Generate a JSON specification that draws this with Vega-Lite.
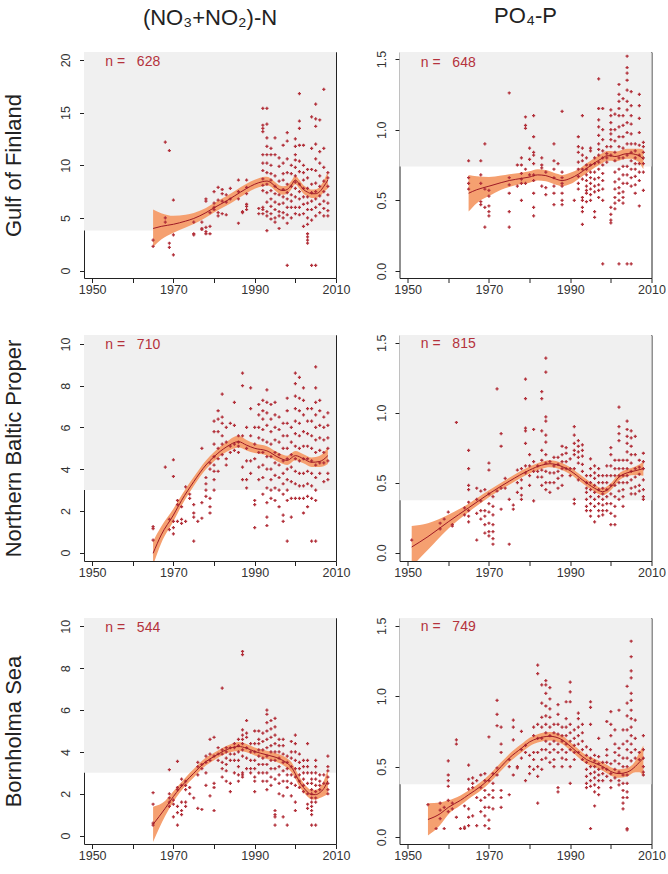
{
"$schema": "https://vega.github.io/schema/vega-lite/v6.json",
"padding": {"left": 2, "top": 4, "right": 0, "bottom": 0},
"background": "white",
"config": {
 "font": "Liberation Sans",
 "view": {"stroke": "#222", "strokeWidth": 1},
 "axis": {"domain": false, "grid": false, "tickColor": "#222", "tickSize": 4.5, "labelFontSize": 12.5, "labelColor": "#333", "labelFont": "Liberation Sans", "labelOverlap": false, "labelFlush": false, "labelBound": false, "titleFontSize": 22, "titleFontWeight": "normal", "titleColor": "#222", "titleFont": "Liberation Sans"},
 "axisX": {"labelPadding": 1},
 "axisY": {"labelAngle": -90, "labelAlign": "center", "labelBaseline": "alphabetic", "labelPadding": 10, "titlePadding": 34},
 "title": {"fontSize": 22, "fontWeight": "normal", "color": "#222", "font": "Liberation Sans", "anchor": "middle", "baseline": "alphabetic", "offset": 22.5}
},
"datasets": {
"fitA": [
{"year":1965,"fit":4.0,"lo":2.25,"hi":5.8},{"year":1967,"fit":4.2,"lo":2.95,"hi":5.45},{"year":1970,"fit":4.4,"lo":3.6,"hi":5.2},{"year":1973,"fit":4.7,"lo":4.1,"hi":5.3},{"year":1975,"fit":4.95,"lo":4.42,"hi":5.48},{"year":1978,"fit":5.5,"lo":5.05,"hi":5.95},{"year":1980,"fit":5.97,"lo":5.52,"hi":6.42},{"year":1983,"fit":6.6,"lo":6.15,"hi":7.05},{"year":1985,"fit":7.08,"lo":6.62,"hi":7.54},{"year":1988,"fit":7.8,"lo":7.35,"hi":8.25},{"year":1990,"fit":8.2,"lo":7.78,"hi":8.62},{"year":1992,"fit":8.45,"lo":8.02,"hi":8.88},{"year":1993,"fit":8.5,"lo":8.08,"hi":8.92},{"year":1994,"fit":8.35,"lo":7.95,"hi":8.75},{"year":1995,"fit":8.0,"lo":7.6,"hi":8.4},{"year":1996,"fit":7.7,"lo":7.3,"hi":8.1},{"year":1997,"fit":7.6,"lo":7.2,"hi":8.0},{"year":1998,"fit":7.7,"lo":7.3,"hi":8.1},{"year":1999,"fit":8.1,"lo":7.7,"hi":8.5},{"year":2000,"fit":8.6,"lo":8.2,"hi":9.0},{"year":2001,"fit":8.2,"lo":7.8,"hi":8.6},{"year":2002,"fit":7.7,"lo":7.3,"hi":8.1},{"year":2003,"fit":7.45,"lo":7.05,"hi":7.85},{"year":2004,"fit":7.3,"lo":6.9,"hi":7.7},{"year":2005,"fit":7.3,"lo":6.9,"hi":7.72},{"year":2006,"fit":7.5,"lo":7.05,"hi":7.95},{"year":2007,"fit":8.0,"lo":7.45,"hi":8.55},{"year":2008,"fit":8.6,"lo":7.8,"hi":9.4}
],
"fitB": [
{"year":1965,"fit":0.55,"lo":0.42,"hi":0.68},{"year":1967,"fit":0.575,"lo":0.48,"hi":0.67},{"year":1970,"fit":0.6,"lo":0.53,"hi":0.665},{"year":1973,"fit":0.625,"lo":0.575,"hi":0.675},{"year":1975,"fit":0.64,"lo":0.595,"hi":0.685},{"year":1978,"fit":0.655,"lo":0.615,"hi":0.695},{"year":1980,"fit":0.665,"lo":0.625,"hi":0.705},{"year":1982,"fit":0.68,"lo":0.64,"hi":0.72},{"year":1984,"fit":0.675,"lo":0.635,"hi":0.715},{"year":1986,"fit":0.655,"lo":0.615,"hi":0.695},{"year":1988,"fit":0.64,"lo":0.6,"hi":0.68},{"year":1990,"fit":0.655,"lo":0.615,"hi":0.695},{"year":1992,"fit":0.685,"lo":0.65,"hi":0.72},{"year":1994,"fit":0.725,"lo":0.69,"hi":0.76},{"year":1996,"fit":0.765,"lo":0.73,"hi":0.8},{"year":1998,"fit":0.8,"lo":0.765,"hi":0.835},{"year":1999,"fit":0.815,"lo":0.78,"hi":0.85},{"year":2000,"fit":0.815,"lo":0.78,"hi":0.85},{"year":2001,"fit":0.81,"lo":0.775,"hi":0.845},{"year":2002,"fit":0.815,"lo":0.78,"hi":0.85},{"year":2003,"fit":0.825,"lo":0.79,"hi":0.86},{"year":2004,"fit":0.83,"lo":0.795,"hi":0.865},{"year":2005,"fit":0.83,"lo":0.795,"hi":0.865},{"year":2006,"fit":0.825,"lo":0.785,"hi":0.865},{"year":2007,"fit":0.815,"lo":0.765,"hi":0.865},{"year":2008,"fit":0.79,"lo":0.72,"hi":0.86}
],
"fitC": [
{"year":1965,"fit":-0.03,"lo":-0.6,"hi":0.55},{"year":1967,"fit":0.85,"lo":0.45,"hi":1.25},{"year":1970,"fit":1.8,"lo":1.5,"hi":2.1},{"year":1972,"fit":2.5,"lo":2.25,"hi":2.75},{"year":1975,"fit":3.4,"lo":3.2,"hi":3.62},{"year":1978,"fit":4.2,"lo":4.0,"hi":4.42},{"year":1980,"fit":4.6,"lo":4.38,"hi":4.82},{"year":1983,"fit":5.06,"lo":4.82,"hi":5.3},{"year":1986,"fit":5.32,"lo":5.04,"hi":5.6},{"year":1988,"fit":5.15,"lo":4.9,"hi":5.4},{"year":1990,"fit":5.0,"lo":4.77,"hi":5.23},{"year":1993,"fit":4.88,"lo":4.66,"hi":5.1},{"year":1996,"fit":4.55,"lo":4.33,"hi":4.77},{"year":1998,"fit":4.42,"lo":4.2,"hi":4.64},{"year":2000,"fit":4.65,"lo":4.43,"hi":4.87},{"year":2002,"fit":4.5,"lo":4.28,"hi":4.72},{"year":2004,"fit":4.33,"lo":4.1,"hi":4.56},{"year":2006,"fit":4.37,"lo":4.1,"hi":4.64},{"year":2008,"fit":4.65,"lo":4.25,"hi":5.05}
],
"fitD": [
{"year":1951,"fit":0.04,"lo":-0.1,"hi":0.19},{"year":1955,"fit":0.114,"lo":0.02,"hi":0.21},{"year":1960,"fit":0.22,"lo":0.17,"hi":0.27},{"year":1965,"fit":0.32,"lo":0.29,"hi":0.35},{"year":1970,"fit":0.42,"lo":0.395,"hi":0.445},{"year":1975,"fit":0.51,"lo":0.485,"hi":0.535},{"year":1980,"fit":0.59,"lo":0.565,"hi":0.615},{"year":1983,"fit":0.625,"lo":0.6,"hi":0.65},{"year":1985,"fit":0.635,"lo":0.61,"hi":0.66},{"year":1988,"fit":0.615,"lo":0.59,"hi":0.64},{"year":1990,"fit":0.585,"lo":0.56,"hi":0.61},{"year":1993,"fit":0.52,"lo":0.495,"hi":0.545},{"year":1996,"fit":0.46,"lo":0.435,"hi":0.485},{"year":1998,"fit":0.435,"lo":0.41,"hi":0.46},{"year":2000,"fit":0.47,"lo":0.445,"hi":0.495},{"year":2002,"fit":0.54,"lo":0.515,"hi":0.565},{"year":2004,"fit":0.57,"lo":0.545,"hi":0.595},{"year":2006,"fit":0.585,"lo":0.555,"hi":0.615},{"year":2008,"fit":0.6,"lo":0.55,"hi":0.65}
],
"fitE": [
{"year":1965,"fit":0.54,"lo":-0.3,"hi":1.38},{"year":1968,"fit":1.31,"lo":0.95,"hi":1.67},{"year":1970,"fit":1.87,"lo":1.62,"hi":2.12},{"year":1973,"fit":2.58,"lo":2.38,"hi":2.78},{"year":1975,"fit":2.98,"lo":2.78,"hi":3.18},{"year":1978,"fit":3.54,"lo":3.35,"hi":3.73},{"year":1980,"fit":3.78,"lo":3.6,"hi":3.96},{"year":1983,"fit":4.1,"lo":3.92,"hi":4.28},{"year":1986,"fit":4.26,"lo":4.04,"hi":4.48},{"year":1988,"fit":4.18,"lo":3.98,"hi":4.38},{"year":1990,"fit":4.02,"lo":3.83,"hi":4.21},{"year":1993,"fit":3.86,"lo":3.66,"hi":4.06},{"year":1996,"fit":3.68,"lo":3.47,"hi":3.89},{"year":1998,"fit":3.46,"lo":3.23,"hi":3.69},{"year":1999,"fit":3.28,"lo":3.04,"hi":3.52},{"year":2000,"fit":2.95,"lo":2.72,"hi":3.18},{"year":2001,"fit":2.58,"lo":2.35,"hi":2.81},{"year":2002,"fit":2.3,"lo":2.08,"hi":2.52},{"year":2003,"fit":2.08,"lo":1.86,"hi":2.3},{"year":2004,"fit":1.96,"lo":1.74,"hi":2.18},{"year":2005,"fit":1.96,"lo":1.73,"hi":2.19},{"year":2006,"fit":2.05,"lo":1.8,"hi":2.3},{"year":2007,"fit":2.25,"lo":1.88,"hi":2.62},{"year":2008,"fit":2.62,"lo":1.98,"hi":3.2}
],
"fitF": [
{"year":1955,"fit":0.124,"lo":0.01,"hi":0.24},{"year":1958,"fit":0.165,"lo":0.085,"hi":0.245},{"year":1960,"fit":0.21,"lo":0.16,"hi":0.26},{"year":1963,"fit":0.26,"lo":0.225,"hi":0.295},{"year":1965,"fit":0.3,"lo":0.27,"hi":0.33},{"year":1968,"fit":0.36,"lo":0.33,"hi":0.39},{"year":1970,"fit":0.41,"lo":0.38,"hi":0.44},{"year":1973,"fit":0.5,"lo":0.47,"hi":0.53},{"year":1975,"fit":0.56,"lo":0.53,"hi":0.59},{"year":1978,"fit":0.63,"lo":0.6,"hi":0.66},{"year":1980,"fit":0.675,"lo":0.645,"hi":0.705},{"year":1982,"fit":0.7,"lo":0.67,"hi":0.73},{"year":1985,"fit":0.715,"lo":0.685,"hi":0.745},{"year":1988,"fit":0.69,"lo":0.66,"hi":0.72},{"year":1990,"fit":0.645,"lo":0.615,"hi":0.675},{"year":1992,"fit":0.595,"lo":0.565,"hi":0.625},{"year":1994,"fit":0.55,"lo":0.52,"hi":0.58},{"year":1996,"fit":0.525,"lo":0.495,"hi":0.555},{"year":1998,"fit":0.5,"lo":0.47,"hi":0.53},{"year":2000,"fit":0.465,"lo":0.435,"hi":0.495},{"year":2002,"fit":0.45,"lo":0.42,"hi":0.48},{"year":2004,"fit":0.46,"lo":0.43,"hi":0.49},{"year":2006,"fit":0.5,"lo":0.46,"hi":0.54},{"year":2007,"fit":0.53,"lo":0.46,"hi":0.6},{"year":2008,"fit":0.56,"lo":0.43,"hi":0.65}
],
"ptsA": [
{"year":1965,"value":2.3},{"year":1965,"value":2.9},{"year":1968,"value":12.2},{"year":1968,"value":5.0},{"year":1968,"value":4.6},{"year":1969,"value":11.4},{"year":1969,"value":2.6},{"year":1969,"value":2.2},{"year":1970,"value":6.7},{"year":1970,"value":3.4},{"year":1970,"value":1.5},{"year":1975,"value":3.5},{"year":1975,"value":3.4},{"year":1975,"value":4.6},{"year":1977,"value":4.0},{"year":1977,"value":4.6},{"year":1977,"value":3.9},{"year":1978,"value":6.8},{"year":1978,"value":6.6},{"year":1978,"value":4.1},{"year":1978,"value":3.7},{"year":1978,"value":3.5},{"year":1979,"value":3.5},{"year":1979,"value":4.2},{"year":1979,"value":5.5},{"year":1980,"value":7.5},{"year":1980,"value":6.0},{"year":1980,"value":5.8},{"year":1980,"value":6.4},{"year":1981,"value":7.9},{"year":1981,"value":5.5},{"year":1981,"value":5.2},{"year":1981,"value":6.7},{"year":1982,"value":7.7},{"year":1982,"value":7.3},{"year":1982,"value":6.6},{"year":1982,"value":5.4},{"year":1983,"value":7.2},{"year":1983,"value":6.5},{"year":1983,"value":5.3},{"year":1984,"value":7.8},{"year":1984,"value":6.8},{"year":1986,"value":8.6},{"year":1986,"value":7.5},{"year":1986,"value":6.8},{"year":1986,"value":4.5},{"year":1987,"value":5.6},{"year":1987,"value":5.5},{"year":1988,"value":8.6},{"year":1988,"value":7.9},{"year":1988,"value":7.3},{"year":1988,"value":6.3},{"year":1988,"value":6.1},{"year":1988,"value":5.8},{"year":1991,"value":5.9},{"year":1991,"value":5.4},
{"year":1992,"value":15.4},{"year":1992,"value":13.8},{"year":1992,"value":13.5},{"year":1992,"value":13.2},{"year":1992,"value":11.0},{"year":1992,"value":10.2},{"year":1992,"value":9.5},{"year":1992,"value":8.7},{"year":1992,"value":8.1},{"year":1992,"value":7.6},{"year":1992,"value":6.0},{"year":1992,"value":5.8},{"year":1992,"value":5.4},
{"year":1993,"value":15.4},{"year":1993,"value":13.9},{"year":1993,"value":12.6},{"year":1993,"value":11.8},{"year":1993,"value":11.0},{"year":1993,"value":10.2},{"year":1993,"value":9.3},{"year":1993,"value":8.2},{"year":1993,"value":7.4},{"year":1993,"value":6.5},{"year":1993,"value":5.6},{"year":1993,"value":5.2},{"year":1993,"value":3.8},
{"year":1994,"value":11.6},{"year":1994,"value":11.0},{"year":1994,"value":10.0},{"year":1994,"value":9.2},{"year":1994,"value":8.6},{"year":1994,"value":7.6},{"year":1994,"value":6.8},{"year":1994,"value":6.1},{"year":1994,"value":5.4},{"year":1994,"value":4.9},
{"year":1995,"value":12.6},{"year":1995,"value":11.0},{"year":1995,"value":9.0},{"year":1995,"value":8.0},{"year":1995,"value":7.3},{"year":1995,"value":6.5},{"year":1995,"value":5.8},{"year":1995,"value":5.0},{"year":1995,"value":4.6},
{"year":1996,"value":10.7},{"year":1996,"value":9.9},{"year":1996,"value":8.5},{"year":1996,"value":7.2},{"year":1996,"value":6.3},{"year":1996,"value":5.6},{"year":1996,"value":5.2},{"year":1996,"value":4.0},
{"year":1997,"value":11.9},{"year":1997,"value":10.2},{"year":1997,"value":9.2},{"year":1997,"value":8.6},{"year":1997,"value":7.7},{"year":1997,"value":7.0},{"year":1997,"value":6.4},{"year":1997,"value":5.5},{"year":1997,"value":5.0},
{"year":1998,"value":13.1},{"year":1998,"value":12.3},{"year":1998,"value":10.6},{"year":1998,"value":9.3},{"year":1998,"value":8.2},{"year":1998,"value":7.4},{"year":1998,"value":6.8},{"year":1998,"value":6.0},{"year":1998,"value":5.3},{"year":1998,"value":4.5},{"year":1998,"value":0.5},
{"year":1999,"value":10.0},{"year":1999,"value":9.2},{"year":1999,"value":8.0},{"year":1999,"value":7.2},{"year":1999,"value":6.6},{"year":1999,"value":6.0},{"year":1999,"value":5.0},
{"year":2000,"value":12.5},{"year":2000,"value":11.8},{"year":2000,"value":11.0},{"year":2000,"value":10.5},{"year":2000,"value":9.8},{"year":2000,"value":9.0},{"year":2000,"value":8.4},{"year":2000,"value":7.8},{"year":2000,"value":7.0},{"year":2000,"value":6.0},{"year":2000,"value":5.4},
{"year":2001,"value":16.8},{"year":2001,"value":14.2},{"year":2001,"value":13.5},{"year":2001,"value":11.9},{"year":2001,"value":10.4},{"year":2001,"value":9.4},{"year":2001,"value":8.2},{"year":2001,"value":7.5},{"year":2001,"value":6.8},{"year":2001,"value":6.0},{"year":2001,"value":5.3},
{"year":2002,"value":11.9},{"year":2002,"value":10.0},{"year":2002,"value":9.3},{"year":2002,"value":8.6},{"year":2002,"value":7.8},{"year":2002,"value":7.0},{"year":2002,"value":6.3},{"year":2002,"value":5.4},{"year":2002,"value":4.2},
{"year":2003,"value":9.6},{"year":2003,"value":8.8},{"year":2003,"value":7.8},{"year":2003,"value":7.0},{"year":2003,"value":6.4},{"year":2003,"value":5.8},{"year":2003,"value":5.0},{"year":2003,"value":4.4},{"year":2003,"value":3.5},{"year":2003,"value":3.2},{"year":2003,"value":2.9},{"year":2003,"value":2.6},
{"year":2004,"value":14.6},{"year":2004,"value":11.6},{"year":2004,"value":9.6},{"year":2004,"value":8.2},{"year":2004,"value":7.4},{"year":2004,"value":6.6},{"year":2004,"value":5.8},{"year":2004,"value":4.8},{"year":2004,"value":0.5},
{"year":2005,"value":15.8},{"year":2005,"value":14.4},{"year":2005,"value":13.7},{"year":2005,"value":12.0},{"year":2005,"value":10.6},{"year":2005,"value":9.5},{"year":2005,"value":8.3},{"year":2005,"value":7.5},{"year":2005,"value":6.8},{"year":2005,"value":6.0},{"year":2005,"value":5.2},{"year":2005,"value":0.5},
{"year":2006,"value":14.3},{"year":2006,"value":11.3},{"year":2006,"value":10.2},{"year":2006,"value":9.0},{"year":2006,"value":8.0},{"year":2006,"value":7.1},{"year":2006,"value":6.3},{"year":2006,"value":5.5},
{"year":2007,"value":17.2},{"year":2007,"value":11.6},{"year":2007,"value":9.8},{"year":2007,"value":8.5},{"year":2007,"value":7.5},{"year":2007,"value":6.6},{"year":2007,"value":5.9},{"year":2007,"value":5.2},
{"year":2008,"value":9.3},{"year":2008,"value":8.8},{"year":2008,"value":8.0},{"year":2008,"value":7.2},{"year":2008,"value":6.4},{"year":2008,"value":5.7},{"year":2008,"value":5.2}
],
"ptsB": [
{"year":1965,"value":0.78},{"year":1965,"value":0.66},{"year":1965,"value":0.62},{"year":1965,"value":0.58},{"year":1968,"value":0.78},{"year":1968,"value":0.68},{"year":1968,"value":0.62},{"year":1968,"value":0.49},{"year":1968,"value":0.47},{"year":1969,"value":0.9},{"year":1969,"value":0.58},{"year":1969,"value":0.45},{"year":1969,"value":0.31},{"year":1970,"value":0.57},{"year":1970,"value":0.53},{"year":1970,"value":0.46},{"year":1970,"value":0.42},{"year":1970,"value":0.39},{"year":1975,"value":1.26},{"year":1975,"value":0.66},{"year":1975,"value":0.61},{"year":1975,"value":0.55},{"year":1975,"value":0.42},{"year":1975,"value":0.31},{"year":1977,"value":0.75},{"year":1977,"value":0.6},{"year":1978,"value":0.8},{"year":1978,"value":0.75},{"year":1978,"value":0.69},{"year":1978,"value":0.65},{"year":1978,"value":0.62},{"year":1978,"value":0.5},{"year":1979,"value":1.09},{"year":1979,"value":1.03},{"year":1979,"value":1.01},{"year":1979,"value":0.72},{"year":1979,"value":0.62},{"year":1980,"value":0.87},{"year":1980,"value":0.79},{"year":1980,"value":0.68},
{"year":1981,"value":1.1},{"year":1981,"value":0.95},{"year":1981,"value":0.84},{"year":1981,"value":0.82},{"year":1981,"value":0.76},{"year":1981,"value":0.68},{"year":1981,"value":0.64},{"year":1981,"value":0.55},{"year":1981,"value":0.45},{"year":1981,"value":0.39},{"year":1983,"value":0.8},{"year":1983,"value":0.75},{"year":1983,"value":0.73},{"year":1983,"value":0.6},{"year":1984,"value":0.7},{"year":1984,"value":0.59},{"year":1984,"value":0.54},
{"year":1986,"value":0.9},{"year":1986,"value":0.78},{"year":1986,"value":0.72},{"year":1986,"value":0.66},{"year":1986,"value":0.6},{"year":1986,"value":0.55},{"year":1986,"value":0.47},{"year":1987,"value":0.76},{"year":1988,"value":1.13},{"year":1988,"value":0.7},{"year":1988,"value":0.66},{"year":1988,"value":0.62},{"year":1988,"value":0.6},{"year":1988,"value":0.55},{"year":1988,"value":0.5},{"year":1988,"value":0.47},{"year":1991,"value":0.5},
{"year":1992,"value":0.95},{"year":1992,"value":0.88},{"year":1992,"value":0.84},{"year":1992,"value":0.77},{"year":1992,"value":0.72},{"year":1992,"value":0.67},{"year":1992,"value":0.62},{"year":1992,"value":0.58},
{"year":1993,"value":1.1},{"year":1993,"value":0.87},{"year":1993,"value":0.82},{"year":1993,"value":0.78},{"year":1993,"value":0.72},{"year":1993,"value":0.65},{"year":1993,"value":0.52},{"year":1993,"value":0.5},{"year":1993,"value":0.45},{"year":1993,"value":0.42},{"year":1993,"value":0.33},
{"year":1994,"value":0.8},{"year":1994,"value":0.75},{"year":1994,"value":0.72},{"year":1994,"value":0.68},{"year":1994,"value":0.64},{"year":1994,"value":0.6},{"year":1994,"value":0.57},{"year":1994,"value":0.55},{"year":1994,"value":0.49},
{"year":1995,"value":0.87},{"year":1995,"value":0.85},{"year":1995,"value":0.75},{"year":1995,"value":0.7},{"year":1995,"value":0.66},{"year":1995,"value":0.62},{"year":1995,"value":0.58},{"year":1995,"value":0.54},{"year":1995,"value":0.5},
{"year":1996,"value":0.8},{"year":1996,"value":0.76},{"year":1996,"value":0.7},{"year":1996,"value":0.65},{"year":1996,"value":0.6},{"year":1996,"value":0.56},{"year":1996,"value":0.42},{"year":1996,"value":0.38},
{"year":1997,"value":1.36},{"year":1997,"value":1.15},{"year":1997,"value":1.07},{"year":1997,"value":1.02},{"year":1997,"value":0.96},{"year":1997,"value":0.9},{"year":1997,"value":0.86},{"year":1997,"value":0.82},{"year":1997,"value":0.77},{"year":1997,"value":0.72},{"year":1997,"value":0.66},{"year":1997,"value":0.61},{"year":1997,"value":0.57},{"year":1997,"value":0.52},
{"year":1998,"value":1.15},{"year":1998,"value":1.0},{"year":1998,"value":0.93},{"year":1998,"value":0.85},{"year":1998,"value":0.8},{"year":1998,"value":0.75},{"year":1998,"value":0.69},{"year":1998,"value":0.64},{"year":1998,"value":0.58},{"year":1998,"value":0.5},{"year":1998,"value":0.05},
{"year":1999,"value":0.88},{"year":1999,"value":0.83},{"year":1999,"value":0.8},{"year":1999,"value":0.77},
{"year":2000,"value":1.14},{"year":2000,"value":1.1},{"year":2000,"value":1.05},{"year":2000,"value":1.0},{"year":2000,"value":0.97},{"year":2000,"value":0.93},{"year":2000,"value":0.88},{"year":2000,"value":0.82},{"year":2000,"value":0.45},{"year":2000,"value":0.4},{"year":2000,"value":0.36},{"year":2000,"value":0.34},
{"year":2001,"value":1.11},{"year":2001,"value":1.0},{"year":2001,"value":0.92},{"year":2001,"value":0.84},{"year":2001,"value":0.78},{"year":2001,"value":0.7},{"year":2001,"value":0.63},{"year":2001,"value":0.58},{"year":2001,"value":0.52},{"year":2001,"value":0.48},{"year":2001,"value":0.44},
{"year":2002,"value":1.32},{"year":2002,"value":1.25},{"year":2002,"value":1.2},{"year":2002,"value":1.15},{"year":2002,"value":1.1},{"year":2002,"value":1.02},{"year":2002,"value":0.95},{"year":2002,"value":0.88},{"year":2002,"value":0.8},{"year":2002,"value":0.72},{"year":2002,"value":0.65},{"year":2002,"value":0.59},{"year":2002,"value":0.55},{"year":2002,"value":0.5},{"year":2002,"value":0.05},
{"year":2003,"value":1.22},{"year":2003,"value":1.1},{"year":2003,"value":1.03},{"year":2003,"value":0.95},{"year":2003,"value":0.87},{"year":2003,"value":0.8},{"year":2003,"value":0.74},{"year":2003,"value":0.68},{"year":2003,"value":0.62},{"year":2003,"value":0.56},{"year":2003,"value":0.52},{"year":2003,"value":0.48},
{"year":2004,"value":1.52},{"year":2004,"value":1.44},{"year":2004,"value":1.4},{"year":2004,"value":1.35},{"year":2004,"value":1.28},{"year":2004,"value":1.2},{"year":2004,"value":1.14},{"year":2004,"value":1.05},{"year":2004,"value":0.98},{"year":2004,"value":0.9},{"year":2004,"value":0.82},{"year":2004,"value":0.74},{"year":2004,"value":0.68},{"year":2004,"value":0.62},{"year":2004,"value":0.05},
{"year":2005,"value":1.27},{"year":2005,"value":1.17},{"year":2005,"value":1.1},{"year":2005,"value":1.04},{"year":2005,"value":0.97},{"year":2005,"value":0.9},{"year":2005,"value":0.84},{"year":2005,"value":0.78},{"year":2005,"value":0.72},{"year":2005,"value":0.66},{"year":2005,"value":0.6},{"year":2005,"value":0.05},
{"year":2006,"value":0.9},{"year":2006,"value":0.85},{"year":2006,"value":0.8},{"year":2006,"value":0.76},{"year":2006,"value":0.72},{"year":2006,"value":0.67},{"year":2006,"value":0.61},{"year":2006,"value":0.55},
{"year":2007,"value":1.25},{"year":2007,"value":1.17},{"year":2007,"value":1.08},{"year":2007,"value":0.98},{"year":2007,"value":0.89},{"year":2007,"value":0.82},{"year":2007,"value":0.76},{"year":2007,"value":0.7},{"year":2007,"value":0.64},{"year":2007,"value":0.46},
{"year":2008,"value":0.91},{"year":2008,"value":0.88},{"year":2008,"value":0.84},{"year":2008,"value":0.8},{"year":2008,"value":0.76},{"year":2008,"value":0.7},{"year":2008,"value":0.57}
],
"ptsC": [
{"year":1965,"value":1.25},{"year":1965,"value":1.15},{"year":1965,"value":0.6},{"year":1968,"value":4.1},{"year":1969,"value":1.6},{"year":1969,"value":1.1},{"year":1970,"value":4.45},{"year":1970,"value":3.65},{"year":1970,"value":1.5},{"year":1970,"value":1.2},{"year":1970,"value":0.9},{"year":1971,"value":2.5},{"year":1971,"value":2.3},{"year":1971,"value":1.5},{"year":1972,"value":2.2},{"year":1972,"value":1.6},{"year":1972,"value":1.4},{"year":1973,"value":3.15},{"year":1973,"value":1.5},{"year":1974,"value":2.8},{"year":1974,"value":2.6},{"year":1975,"value":2.3},{"year":1975,"value":1.9},{"year":1975,"value":1.7},{"year":1975,"value":0.55},{"year":1976,"value":1.5},{"year":1977,"value":5.0},{"year":1977,"value":2.4},{"year":1977,"value":1.65},{"year":1978,"value":3.6},{"year":1978,"value":3.3},{"year":1978,"value":3.0},{"year":1978,"value":2.7},{"year":1979,"value":4.3},{"year":1979,"value":4.0},{"year":1979,"value":2.6},{"year":1979,"value":2.2},{"year":1979,"value":1.9},
{"year":1980,"value":6.3},{"year":1980,"value":5.8},{"year":1980,"value":5.2},{"year":1980,"value":4.6},{"year":1980,"value":4.2},{"year":1980,"value":3.9},{"year":1980,"value":3.5},{"year":1980,"value":3.0},{"year":1981,"value":6.8},{"year":1981,"value":6.4},{"year":1981,"value":5.8},{"year":1981,"value":5.0},{"year":1981,"value":4.5},{"year":1981,"value":3.9},{"year":1982,"value":7.6},{"year":1982,"value":6.5},{"year":1982,"value":6.2},{"year":1982,"value":5.6},{"year":1982,"value":5.2},{"year":1982,"value":4.7},{"year":1983,"value":6.0},{"year":1983,"value":5.3},{"year":1983,"value":4.5},{"year":1983,"value":4.2},{"year":1984,"value":6.2},{"year":1984,"value":5.1},{"year":1984,"value":4.8},{"year":1985,"value":7.2},{"year":1985,"value":6.1},{"year":1985,"value":5.2},{"year":1985,"value":4.9},{"year":1986,"value":5.6},{"year":1986,"value":5.3},{"year":1986,"value":5.1},{"year":1986,"value":4.8},{"year":1987,"value":8.6},{"year":1987,"value":8.0},{"year":1987,"value":5.6},{"year":1987,"value":4.1},{"year":1987,"value":3.5},{"year":1988,"value":6.0},{"year":1988,"value":5.0},{"year":1988,"value":4.4},{"year":1988,"value":3.5},{"year":1988,"value":3.1},{"year":1989,"value":7.9},{"year":1989,"value":6.9},{"year":1989,"value":5.6},{"year":1989,"value":4.4},{"year":1989,"value":3.8},{"year":1990,"value":6.0},{"year":1990,"value":5.2},{"year":1990,"value":4.5},{"year":1990,"value":2.5},{"year":1990,"value":2.3},{"year":1990,"value":1.2},
{"year":1991,"value":7.1},{"year":1991,"value":6.6},{"year":1991,"value":6.0},{"year":1991,"value":5.5},{"year":1991,"value":4.8},{"year":1991,"value":4.1},{"year":1991,"value":3.5},
{"year":1992,"value":7.3},{"year":1992,"value":6.8},{"year":1992,"value":6.4},{"year":1992,"value":5.9},{"year":1992,"value":5.4},{"year":1992,"value":4.8},{"year":1992,"value":4.2},{"year":1992,"value":3.6},{"year":1992,"value":2.8},
{"year":1993,"value":7.8},{"year":1993,"value":7.2},{"year":1993,"value":6.7},{"year":1993,"value":6.1},{"year":1993,"value":5.3},{"year":1993,"value":4.6},{"year":1993,"value":4.0},{"year":1993,"value":3.1},{"year":1993,"value":2.4},{"year":1993,"value":1.7},{"year":1993,"value":1.3},
{"year":1994,"value":7.1},{"year":1994,"value":6.4},{"year":1994,"value":5.8},{"year":1994,"value":5.2},{"year":1994,"value":4.6},{"year":1994,"value":4.0},{"year":1994,"value":3.5},{"year":1994,"value":3.0},{"year":1994,"value":2.6},
{"year":1995,"value":7.2},{"year":1995,"value":6.6},{"year":1995,"value":6.0},{"year":1995,"value":5.4},{"year":1995,"value":4.8},{"year":1995,"value":4.3},{"year":1995,"value":3.7},{"year":1995,"value":3.1},{"year":1995,"value":2.5},
{"year":1996,"value":6.5},{"year":1996,"value":5.9},{"year":1996,"value":5.3},{"year":1996,"value":4.7},{"year":1996,"value":4.2},{"year":1996,"value":3.6},{"year":1996,"value":3.0},{"year":1996,"value":2.2},
{"year":1997,"value":6.2},{"year":1997,"value":5.6},{"year":1997,"value":5.0},{"year":1997,"value":4.4},{"year":1997,"value":3.8},{"year":1997,"value":3.3},{"year":1997,"value":2.8},{"year":1997,"value":1.8},{"year":1997,"value":1.5},
{"year":1998,"value":7.4},{"year":1998,"value":6.8},{"year":1998,"value":6.2},{"year":1998,"value":5.6},{"year":1998,"value":5.0},{"year":1998,"value":4.5},{"year":1998,"value":4.0},{"year":1998,"value":3.5},{"year":1998,"value":3.0},{"year":1998,"value":2.5},{"year":1998,"value":0.55},
{"year":1999,"value":6.0},{"year":1999,"value":5.3},{"year":1999,"value":4.7},{"year":1999,"value":4.1},{"year":1999,"value":3.4},{"year":1999,"value":2.6},{"year":1999,"value":1.7},
{"year":2000,"value":8.6},{"year":2000,"value":8.1},{"year":2000,"value":7.5},{"year":2000,"value":6.9},{"year":2000,"value":6.3},{"year":2000,"value":5.7},{"year":2000,"value":5.1},{"year":2000,"value":4.5},{"year":2000,"value":3.9},{"year":2000,"value":3.3},{"year":2000,"value":2.6},
{"year":2001,"value":8.4},{"year":2001,"value":7.4},{"year":2001,"value":6.8},{"year":2001,"value":6.2},{"year":2001,"value":5.6},{"year":2001,"value":5.0},{"year":2001,"value":4.4},{"year":2001,"value":3.8},{"year":2001,"value":3.2},{"year":2001,"value":2.6},
{"year":2002,"value":7.9},{"year":2002,"value":7.3},{"year":2002,"value":6.6},{"year":2002,"value":5.8},{"year":2002,"value":5.1},{"year":2002,"value":4.5},{"year":2002,"value":3.8},{"year":2002,"value":3.2},{"year":2002,"value":2.6},{"year":2002,"value":1.9},
{"year":2003,"value":6.9},{"year":2003,"value":6.3},{"year":2003,"value":5.7},{"year":2003,"value":5.1},{"year":2003,"value":4.5},{"year":2003,"value":3.9},{"year":2003,"value":3.3},{"year":2003,"value":2.7},{"year":2003,"value":2.2},
{"year":2004,"value":6.9},{"year":2004,"value":6.3},{"year":2004,"value":5.6},{"year":2004,"value":5.0},{"year":2004,"value":4.4},{"year":2004,"value":3.8},{"year":2004,"value":3.2},{"year":2004,"value":2.6},{"year":2004,"value":0.55},
{"year":2005,"value":8.9},{"year":2005,"value":7.9},{"year":2005,"value":7.2},{"year":2005,"value":6.6},{"year":2005,"value":6.0},{"year":2005,"value":5.4},{"year":2005,"value":4.8},{"year":2005,"value":4.2},{"year":2005,"value":3.6},{"year":2005,"value":3.0},{"year":2005,"value":2.5},{"year":2005,"value":0.55},
{"year":2006,"value":7.3},{"year":2006,"value":6.8},{"year":2006,"value":6.1},{"year":2006,"value":5.5},{"year":2006,"value":4.9},{"year":2006,"value":4.3},{"year":2006,"value":3.8},
{"year":2007,"value":6.5},{"year":2007,"value":6.0},{"year":2007,"value":5.4},{"year":2007,"value":4.8},{"year":2007,"value":4.3},{"year":2007,"value":3.4},
{"year":2008,"value":6.7},{"year":2008,"value":6.1},{"year":2008,"value":5.5},{"year":2008,"value":5.0},{"year":2008,"value":4.4},{"year":2008,"value":3.8},{"year":2008,"value":3.5}
],
"ptsD": [
{"year":1951,"value":0.09},{"year":1958,"value":0.21},{"year":1958,"value":0.17},{"year":1959,"value":0.24},{"year":1960,"value":0.29},{"year":1961,"value":0.2},{"year":1961,"value":0.19},{"year":1962,"value":0.93},{"year":1964,"value":0.32},{"year":1964,"value":0.27},
{"year":1965,"value":0.73},{"year":1965,"value":0.6},{"year":1965,"value":0.48},{"year":1965,"value":0.45},{"year":1965,"value":0.36},{"year":1965,"value":0.3},{"year":1965,"value":0.26},{"year":1965,"value":0.22},
{"year":1967,"value":0.46},{"year":1967,"value":0.38},{"year":1967,"value":0.28},{"year":1967,"value":0.09},{"year":1968,"value":0.44},{"year":1968,"value":0.37},{"year":1968,"value":0.3},{"year":1968,"value":0.24},{"year":1969,"value":0.45},{"year":1969,"value":0.3},{"year":1969,"value":0.26},{"year":1969,"value":0.2},{"year":1969,"value":0.14},
{"year":1970,"value":0.64},{"year":1970,"value":0.59},{"year":1970,"value":0.42},{"year":1970,"value":0.35},{"year":1970,"value":0.29},{"year":1970,"value":0.21},{"year":1970,"value":0.15},{"year":1970,"value":0.12},
{"year":1971,"value":0.4},{"year":1971,"value":0.33},{"year":1971,"value":0.27},{"year":1971,"value":0.2},{"year":1971,"value":0.15},{"year":1971,"value":0.1},{"year":1971,"value":0.06},{"year":1972,"value":1.17},{"year":1972,"value":0.44},{"year":1973,"value":0.85},{"year":1973,"value":0.76},{"year":1973,"value":0.46},{"year":1973,"value":0.31},{"year":1974,"value":0.53},{"year":1974,"value":0.46},{"year":1975,"value":0.38},{"year":1975,"value":0.06},{"year":1976,"value":0.34},{"year":1976,"value":0.31},{"year":1977,"value":0.59},{"year":1977,"value":0.5},{"year":1977,"value":0.43},
{"year":1978,"value":0.6},{"year":1978,"value":0.52},{"year":1978,"value":0.46},{"year":1978,"value":0.41},{"year":1978,"value":0.38},{"year":1979,"value":1.24},{"year":1979,"value":1.1},{"year":1979,"value":0.89},{"year":1979,"value":0.87},{"year":1979,"value":0.78},{"year":1979,"value":0.62},{"year":1979,"value":0.57},{"year":1980,"value":0.7},{"year":1980,"value":0.62},{"year":1980,"value":0.55},{"year":1980,"value":0.48},{"year":1981,"value":0.88},{"year":1981,"value":0.65},{"year":1981,"value":0.58},{"year":1981,"value":0.37},{"year":1982,"value":0.62},{"year":1982,"value":0.58},{"year":1982,"value":0.54},
{"year":1983,"value":1.15},{"year":1983,"value":1.1},{"year":1983,"value":0.87},{"year":1983,"value":0.73},{"year":1983,"value":0.66},{"year":1983,"value":0.59},{"year":1983,"value":0.54},{"year":1983,"value":0.48},
{"year":1984,"value":1.39},{"year":1984,"value":1.29},{"year":1984,"value":0.97},{"year":1984,"value":0.94},{"year":1984,"value":0.84},{"year":1984,"value":0.79},{"year":1984,"value":0.7},{"year":1984,"value":0.64},{"year":1984,"value":0.58},{"year":1984,"value":0.5},{"year":1984,"value":0.45},
{"year":1985,"value":0.65},{"year":1985,"value":0.57},{"year":1985,"value":0.5},{"year":1985,"value":0.43},{"year":1986,"value":0.68},{"year":1986,"value":0.62},{"year":1986,"value":0.57},{"year":1986,"value":0.5},{"year":1987,"value":0.68},{"year":1987,"value":0.63},{"year":1987,"value":0.58},{"year":1987,"value":0.53},{"year":1987,"value":0.46},
{"year":1988,"value":0.76},{"year":1988,"value":0.7},{"year":1988,"value":0.65},{"year":1988,"value":0.6},{"year":1988,"value":0.55},{"year":1988,"value":0.48},{"year":1989,"value":0.75},{"year":1989,"value":0.71},{"year":1989,"value":0.65},{"year":1989,"value":0.6},{"year":1990,"value":0.67},{"year":1990,"value":0.6},{"year":1990,"value":0.55},
{"year":1991,"value":0.9},{"year":1991,"value":0.84},{"year":1991,"value":0.78},{"year":1991,"value":0.73},{"year":1991,"value":0.7},{"year":1991,"value":0.6},{"year":1991,"value":0.38},{"year":1991,"value":0.35},
{"year":1992,"value":0.8},{"year":1992,"value":0.76},{"year":1992,"value":0.72},{"year":1992,"value":0.68},{"year":1992,"value":0.64},{"year":1992,"value":0.52},{"year":1993,"value":0.77},{"year":1993,"value":0.73},{"year":1993,"value":0.69},{"year":1993,"value":0.63},{"year":1993,"value":0.58},
{"year":1994,"value":0.55},{"year":1994,"value":0.5},{"year":1994,"value":0.46},{"year":1994,"value":0.43},{"year":1994,"value":0.38},{"year":1994,"value":0.33},{"year":1994,"value":0.3},
{"year":1995,"value":0.67},{"year":1995,"value":0.6},{"year":1995,"value":0.55},{"year":1995,"value":0.5},{"year":1995,"value":0.45},{"year":1995,"value":0.4},{"year":1995,"value":0.35},{"year":1995,"value":0.3},{"year":1995,"value":0.26},
{"year":1996,"value":0.62},{"year":1996,"value":0.57},{"year":1996,"value":0.53},{"year":1996,"value":0.48},{"year":1996,"value":0.43},{"year":1996,"value":0.38},{"year":1996,"value":0.33},{"year":1996,"value":0.22},
{"year":1997,"value":0.6},{"year":1997,"value":0.55},{"year":1997,"value":0.5},{"year":1997,"value":0.45},{"year":1997,"value":0.4},{"year":1997,"value":0.35},{"year":1997,"value":0.3},{"year":1997,"value":0.26},
{"year":1998,"value":0.55},{"year":1998,"value":0.5},{"year":1998,"value":0.46},{"year":1998,"value":0.42},{"year":1998,"value":0.38},{"year":1998,"value":0.34},{"year":1998,"value":0.3},{"year":1998,"value":0.27},
{"year":1999,"value":0.62},{"year":1999,"value":0.55},{"year":1999,"value":0.5},{"year":1999,"value":0.45},{"year":1999,"value":0.4},{"year":1999,"value":0.35},{"year":1999,"value":0.3},
{"year":2000,"value":0.75},{"year":2000,"value":0.7},{"year":2000,"value":0.62},{"year":2000,"value":0.55},{"year":2000,"value":0.48},{"year":2000,"value":0.42},{"year":2000,"value":0.35},{"year":2000,"value":0.28},{"year":2000,"value":0.2},
{"year":2001,"value":0.66},{"year":2001,"value":0.6},{"year":2001,"value":0.55},{"year":2001,"value":0.48},{"year":2001,"value":0.4},{"year":2001,"value":0.33},{"year":2001,"value":0.26},{"year":2001,"value":0.2},
{"year":2002,"value":1.04},{"year":2002,"value":0.9},{"year":2002,"value":0.85},{"year":2002,"value":0.8},{"year":2002,"value":0.66},{"year":2002,"value":0.6},{"year":2002,"value":0.55},{"year":2002,"value":0.5},{"year":2002,"value":0.44},{"year":2002,"value":0.38},
{"year":2003,"value":0.66},{"year":2003,"value":0.6},{"year":2003,"value":0.55},{"year":2003,"value":0.5},{"year":2003,"value":0.45},{"year":2003,"value":0.4},{"year":2003,"value":0.33},
{"year":2004,"value":0.94},{"year":2004,"value":0.88},{"year":2004,"value":0.83},{"year":2004,"value":0.78},{"year":2004,"value":0.72},{"year":2004,"value":0.66},{"year":2004,"value":0.6},{"year":2004,"value":0.55},{"year":2004,"value":0.5},
{"year":2005,"value":0.87},{"year":2005,"value":0.82},{"year":2005,"value":0.76},{"year":2005,"value":0.7},{"year":2005,"value":0.64},{"year":2005,"value":0.58},{"year":2005,"value":0.52},{"year":2005,"value":0.46},{"year":2005,"value":0.42},
{"year":2006,"value":0.83},{"year":2006,"value":0.7},{"year":2006,"value":0.6},{"year":2006,"value":0.54},{"year":2006,"value":0.47},{"year":2006,"value":0.42},
{"year":2007,"value":0.66},{"year":2007,"value":0.61},{"year":2007,"value":0.56},{"year":2007,"value":0.48},{"year":2007,"value":0.44},
{"year":2008,"value":0.71},{"year":2008,"value":0.65},{"year":2008,"value":0.6},{"year":2008,"value":0.52},{"year":2008,"value":0.45},{"year":2008,"value":0.4},{"year":2008,"value":0.38}
],
"ptsE": [
{"year":1965,"value":2.05},{"year":1965,"value":1.5},{"year":1965,"value":0.6},{"year":1965,"value":0.5},{"year":1969,"value":3.15},{"year":1969,"value":2.0},{"year":1969,"value":1.8},{"year":1969,"value":1.6},{"year":1969,"value":1.4},{"year":1970,"value":1.7},{"year":1970,"value":1.5},{"year":1970,"value":0.9},{"year":1971,"value":3.55},{"year":1971,"value":2.3},{"year":1971,"value":2.2},{"year":1971,"value":1.4},{"year":1971,"value":1.1},{"year":1971,"value":0.5},{"year":1972,"value":2.7},{"year":1972,"value":2.4},{"year":1972,"value":1.6},{"year":1972,"value":1.2},{"year":1972,"value":1.0},{"year":1973,"value":2.6},{"year":1973,"value":2.4},{"year":1973,"value":2.2},{"year":1973,"value":1.6},{"year":1973,"value":1.4},{"year":1974,"value":2.3},{"year":1974,"value":2.0},{"year":1975,"value":1.8},{"year":1976,"value":3.5},{"year":1976,"value":3.3},{"year":1976,"value":2.9},{"year":1976,"value":1.3},{"year":1977,"value":3.4},{"year":1977,"value":3.2},{"year":1977,"value":1.25},
{"year":1978,"value":3.8},{"year":1978,"value":3.5},{"year":1978,"value":3.0},{"year":1978,"value":2.4},{"year":1979,"value":4.6},{"year":1979,"value":3.9},{"year":1979,"value":3.6},{"year":1979,"value":1.9},{"year":1980,"value":4.7},{"year":1980,"value":3.8},{"year":1980,"value":2.5},{"year":1980,"value":2.3},{"year":1980,"value":1.2},{"year":1981,"value":4.2},{"year":1981,"value":3.9},{"year":1981,"value":3.6},
{"year":1982,"value":7.05},{"year":1982,"value":4.1},{"year":1982,"value":3.9},{"year":1982,"value":3.5},{"year":1982,"value":3.2},{"year":1982,"value":2.8},{"year":1983,"value":4.2},{"year":1983,"value":4.0},{"year":1983,"value":3.7},{"year":1983,"value":3.4},{"year":1983,"value":3.1},{"year":1983,"value":2.6},{"year":1984,"value":4.2},{"year":1984,"value":3.9},{"year":1984,"value":3.6},{"year":1984,"value":2.5},{"year":1984,"value":2.1},{"year":1985,"value":4.4},{"year":1985,"value":4.2},{"year":1985,"value":3.9},{"year":1985,"value":3.6},{"year":1985,"value":3.0},
{"year":1986,"value":4.6},{"year":1986,"value":4.3},{"year":1986,"value":4.0},{"year":1986,"value":3.6},{"year":1986,"value":3.3},{"year":1986,"value":2.9},{"year":1986,"value":2.6},
{"year":1987,"value":8.8},{"year":1987,"value":8.65},{"year":1987,"value":5.05},{"year":1987,"value":4.8},{"year":1987,"value":4.6},{"year":1987,"value":4.4},{"year":1987,"value":4.1},{"year":1987,"value":3.8},{"year":1987,"value":3.0},{"year":1987,"value":2.9},{"year":1987,"value":2.8},
{"year":1988,"value":5.5},{"year":1988,"value":4.9},{"year":1988,"value":4.7},{"year":1988,"value":4.2},{"year":1988,"value":3.7},{"year":1988,"value":3.2},{"year":1989,"value":4.4},{"year":1989,"value":4.0},{"year":1989,"value":3.6},{"year":1989,"value":3.2},{"year":1989,"value":3.0},
{"year":1990,"value":5.0},{"year":1990,"value":4.4},{"year":1990,"value":4.0},{"year":1990,"value":3.6},{"year":1990,"value":3.2},{"year":1990,"value":2.8},{"year":1990,"value":2.6},{"year":1990,"value":2.1},
{"year":1991,"value":5.0},{"year":1991,"value":4.6},{"year":1991,"value":4.4},{"year":1991,"value":4.1},{"year":1991,"value":3.8},{"year":1991,"value":3.4},{"year":1991,"value":3.0},
{"year":1992,"value":4.9},{"year":1992,"value":4.5},{"year":1992,"value":4.1},{"year":1992,"value":3.7},{"year":1992,"value":3.4},{"year":1992,"value":3.0},{"year":1992,"value":2.6},
{"year":1993,"value":6.0},{"year":1993,"value":5.8},{"year":1993,"value":5.4},{"year":1993,"value":5.0},{"year":1993,"value":4.6},{"year":1993,"value":4.2},{"year":1993,"value":3.8},{"year":1993,"value":3.4},{"year":1993,"value":3.0},{"year":1993,"value":2.6},{"year":1993,"value":2.2},
{"year":1994,"value":5.5},{"year":1994,"value":5.1},{"year":1994,"value":4.7},{"year":1994,"value":4.3},{"year":1994,"value":4.0},{"year":1994,"value":3.6},{"year":1994,"value":3.2},{"year":1994,"value":2.8},{"year":1994,"value":2.4},
{"year":1995,"value":5.6},{"year":1995,"value":5.2},{"year":1995,"value":4.8},{"year":1995,"value":4.4},{"year":1995,"value":4.0},{"year":1995,"value":3.6},{"year":1995,"value":3.2},{"year":1995,"value":2.7},{"year":1995,"value":1.2},{"year":1995,"value":1.0},{"year":1995,"value":0.9},{"year":1995,"value":0.5},
{"year":1996,"value":4.6},{"year":1996,"value":4.3},{"year":1996,"value":4.0},{"year":1996,"value":3.7},{"year":1996,"value":3.3},{"year":1996,"value":2.9},{"year":1996,"value":2.5},{"year":1996,"value":2.0},
{"year":1997,"value":4.6},{"year":1997,"value":4.3},{"year":1997,"value":3.9},{"year":1997,"value":3.5},{"year":1997,"value":3.1},{"year":1997,"value":2.6},{"year":1997,"value":1.9},{"year":1997,"value":0.9},
{"year":1998,"value":3.8},{"year":1998,"value":3.5},{"year":1998,"value":3.2},{"year":1998,"value":2.9},{"year":1998,"value":2.6},{"year":1998,"value":2.3},{"year":1998,"value":0.5},
{"year":1999,"value":4.5},{"year":1999,"value":4.0},{"year":1999,"value":3.7},{"year":1999,"value":3.3},{"year":1999,"value":2.9},{"year":1999,"value":2.5},{"year":1999,"value":1.9},
{"year":2000,"value":4.8},{"year":2000,"value":4.4},{"year":2000,"value":4.0},{"year":2000,"value":3.6},{"year":2000,"value":3.2},{"year":2000,"value":2.8},{"year":2000,"value":2.4},{"year":2000,"value":1.6},{"year":2000,"value":1.2},
{"year":2001,"value":3.9},{"year":2001,"value":3.5},{"year":2001,"value":3.2},{"year":2001,"value":2.9},{"year":2001,"value":2.6},{"year":2001,"value":2.3},
{"year":2002,"value":3.6},{"year":2002,"value":3.3},{"year":2002,"value":3.0},{"year":2002,"value":2.7},{"year":2002,"value":2.4},{"year":2002,"value":2.1},
{"year":2003,"value":4.4},{"year":2003,"value":3.6},{"year":2003,"value":3.3},{"year":2003,"value":3.0},{"year":2003,"value":2.5},{"year":2003,"value":2.0},{"year":2003,"value":1.5},{"year":2003,"value":1.3},
{"year":2004,"value":3.0},{"year":2004,"value":2.7},{"year":2004,"value":2.5},{"year":2004,"value":2.2},{"year":2004,"value":2.0},{"year":2004,"value":1.8},{"year":2004,"value":1.6},{"year":2004,"value":1.4},{"year":2004,"value":1.2},{"year":2004,"value":1.0},{"year":2004,"value":0.5},
{"year":2005,"value":3.6},{"year":2005,"value":3.3},{"year":2005,"value":3.0},{"year":2005,"value":2.7},{"year":2005,"value":2.4},{"year":2005,"value":2.1},{"year":2005,"value":1.8},{"year":2005,"value":1.6},{"year":2005,"value":0.5},
{"year":2006,"value":2.9},{"year":2006,"value":2.6},{"year":2006,"value":2.4},{"year":2006,"value":2.2},{"year":2007,"value":2.9},{"year":2007,"value":2.5},
{"year":2008,"value":3.8},{"year":2008,"value":3.3},{"year":2008,"value":3.1},{"year":2008,"value":2.8},{"year":2008,"value":2.5},{"year":2008,"value":2.2},{"year":2008,"value":2.0}
],
"ptsF": [
{"year":1955,"value":0.23},{"year":1957,"value":0.06},{"year":1958,"value":0.24},{"year":1958,"value":0.19},{"year":1958,"value":0.13},{"year":1959,"value":0.06},{"year":1959,"value":0.21},{"year":1960,"value":0.54},{"year":1960,"value":0.44},{"year":1960,"value":0.4},{"year":1960,"value":0.36},{"year":1960,"value":0.26},{"year":1960,"value":0.18},{"year":1961,"value":0.24},{"year":1961,"value":0.2},{"year":1962,"value":0.69},{"year":1962,"value":0.66},{"year":1962,"value":0.14},{"year":1963,"value":0.06},{"year":1964,"value":0.22},{"year":1964,"value":0.07},{"year":1964,"value":0.06},
{"year":1965,"value":0.51},{"year":1965,"value":0.41},{"year":1965,"value":0.34},{"year":1965,"value":0.2},{"year":1965,"value":0.14},{"year":1965,"value":0.08},{"year":1966,"value":0.42},{"year":1966,"value":0.38},{"year":1966,"value":0.35},{"year":1966,"value":0.15},{"year":1967,"value":0.4},{"year":1967,"value":0.28},{"year":1967,"value":0.08},{"year":1968,"value":0.44},{"year":1968,"value":0.35},{"year":1968,"value":0.26},{"year":1968,"value":0.18},
{"year":1969,"value":0.45},{"year":1969,"value":0.4},{"year":1969,"value":0.33},{"year":1969,"value":0.28},{"year":1969,"value":0.21},{"year":1969,"value":0.15},{"year":1969,"value":0.08},{"year":1970,"value":0.71},{"year":1970,"value":0.4},{"year":1970,"value":0.3},{"year":1970,"value":0.21},{"year":1970,"value":0.12},{"year":1970,"value":0.06},
{"year":1971,"value":0.45},{"year":1971,"value":0.38},{"year":1971,"value":0.33},{"year":1971,"value":0.28},{"year":1971,"value":0.2},{"year":1972,"value":0.97},{"year":1972,"value":0.87},{"year":1972,"value":0.79},{"year":1972,"value":0.49},{"year":1972,"value":0.44},{"year":1973,"value":0.78},{"year":1973,"value":0.66},{"year":1973,"value":0.6},{"year":1973,"value":0.33},{"year":1973,"value":0.28},{"year":1973,"value":0.21},
{"year":1975,"value":0.55},{"year":1975,"value":0.5},{"year":1975,"value":0.3},{"year":1976,"value":0.83},{"year":1976,"value":0.78},{"year":1976,"value":0.69},{"year":1976,"value":0.44},{"year":1977,"value":0.5},{"year":1977,"value":0.49},{"year":1978,"value":0.75},{"year":1978,"value":0.62},{"year":1978,"value":0.56},{"year":1979,"value":0.65},{"year":1979,"value":0.6},{"year":1979,"value":0.4},{"year":1980,"value":0.58},{"year":1980,"value":0.5},{"year":1980,"value":0.45},
{"year":1981,"value":0.78},{"year":1981,"value":0.72},{"year":1981,"value":0.6},{"year":1981,"value":0.55},{"year":1981,"value":0.48},
{"year":1982,"value":1.22},{"year":1982,"value":1.16},{"year":1982,"value":0.8},{"year":1982,"value":0.7},{"year":1982,"value":0.6},{"year":1982,"value":0.5},{"year":1982,"value":0.43},{"year":1982,"value":0.24},
{"year":1983,"value":1.08},{"year":1983,"value":0.95},{"year":1983,"value":0.85},{"year":1983,"value":0.78},{"year":1983,"value":0.7},{"year":1983,"value":0.62},{"year":1983,"value":0.55},{"year":1983,"value":0.48},
{"year":1984,"value":1.11},{"year":1984,"value":1.08},{"year":1984,"value":1.02},{"year":1984,"value":0.93},{"year":1984,"value":0.86},{"year":1984,"value":0.8},{"year":1984,"value":0.74},{"year":1984,"value":0.68},{"year":1984,"value":0.62},{"year":1984,"value":0.56},
{"year":1985,"value":1.06},{"year":1985,"value":0.98},{"year":1985,"value":0.91},{"year":1985,"value":0.85},{"year":1985,"value":0.78},{"year":1985,"value":0.72},{"year":1985,"value":0.66},{"year":1985,"value":0.6},{"year":1985,"value":0.53},
{"year":1986,"value":0.8},{"year":1986,"value":0.74},{"year":1986,"value":0.68},{"year":1986,"value":0.62},{"year":1986,"value":0.55},{"year":1986,"value":0.5},
{"year":1987,"value":0.94},{"year":1987,"value":0.87},{"year":1987,"value":0.8},{"year":1987,"value":0.73},{"year":1987,"value":0.66},{"year":1987,"value":0.6},{"year":1987,"value":0.35},{"year":1987,"value":0.32},
{"year":1988,"value":0.78},{"year":1988,"value":0.72},{"year":1988,"value":0.68},{"year":1988,"value":0.62},{"year":1988,"value":0.56},{"year":1988,"value":0.5},
{"year":1989,"value":0.96},{"year":1989,"value":0.84},{"year":1989,"value":0.78},{"year":1989,"value":0.72},{"year":1989,"value":0.66},{"year":1989,"value":0.6},{"year":1989,"value":0.55},
{"year":1990,"value":1.1},{"year":1990,"value":1.03},{"year":1990,"value":0.96},{"year":1990,"value":0.8},{"year":1990,"value":0.74},{"year":1990,"value":0.68},{"year":1990,"value":0.62},{"year":1990,"value":0.5},{"year":1990,"value":0.38},
{"year":1991,"value":0.76},{"year":1991,"value":0.7},{"year":1991,"value":0.65},{"year":1991,"value":0.6},{"year":1991,"value":0.55},
{"year":1992,"value":0.88},{"year":1992,"value":0.84},{"year":1992,"value":0.78},{"year":1992,"value":0.72},{"year":1992,"value":0.66},{"year":1992,"value":0.6},
{"year":1993,"value":0.8},{"year":1993,"value":0.74},{"year":1993,"value":0.68},{"year":1993,"value":0.62},{"year":1993,"value":0.55},
{"year":1994,"value":0.64},{"year":1994,"value":0.58},{"year":1994,"value":0.53},{"year":1994,"value":0.48},{"year":1994,"value":0.43},{"year":1994,"value":0.38},{"year":1994,"value":0.35},
{"year":1995,"value":0.96},{"year":1995,"value":0.92},{"year":1995,"value":0.8},{"year":1995,"value":0.62},{"year":1995,"value":0.56},{"year":1995,"value":0.5},{"year":1995,"value":0.45},{"year":1995,"value":0.4},{"year":1995,"value":0.36},{"year":1995,"value":0.06},
{"year":1996,"value":0.58},{"year":1996,"value":0.54},{"year":1996,"value":0.5},{"year":1996,"value":0.46},{"year":1996,"value":0.42},{"year":1996,"value":0.37},{"year":1996,"value":0.32},{"year":1996,"value":0.22},
{"year":1997,"value":0.7},{"year":1997,"value":0.57},{"year":1997,"value":0.52},{"year":1997,"value":0.48},{"year":1997,"value":0.44},{"year":1997,"value":0.4},{"year":1997,"value":0.35},{"year":1997,"value":0.3},
{"year":1998,"value":0.53},{"year":1998,"value":0.49},{"year":1998,"value":0.45},{"year":1998,"value":0.4},
{"year":1999,"value":0.82},{"year":1999,"value":0.62},{"year":1999,"value":0.58},{"year":1999,"value":0.53},{"year":1999,"value":0.48},{"year":1999,"value":0.43},
{"year":2000,"value":0.89},{"year":2000,"value":0.8},{"year":2000,"value":0.72},{"year":2000,"value":0.52},{"year":2000,"value":0.45},{"year":2000,"value":0.4},{"year":2000,"value":0.35},
{"year":2001,"value":0.76},{"year":2001,"value":0.66},{"year":2001,"value":0.6},{"year":2001,"value":0.54},{"year":2001,"value":0.48},{"year":2001,"value":0.42},
{"year":2002,"value":0.9},{"year":2002,"value":0.63},{"year":2002,"value":0.58},{"year":2002,"value":0.52},{"year":2002,"value":0.46},{"year":2002,"value":0.4},{"year":2002,"value":0.37},
{"year":2003,"value":0.76},{"year":2003,"value":0.66},{"year":2003,"value":0.56},{"year":2003,"value":0.5},{"year":2003,"value":0.44},{"year":2003,"value":0.38},{"year":2003,"value":0.33},{"year":2003,"value":0.28},{"year":2003,"value":0.24},{"year":2003,"value":0.2},
{"year":2004,"value":1.07},{"year":2004,"value":0.95},{"year":2004,"value":0.86},{"year":2004,"value":0.76},{"year":2004,"value":0.68},{"year":2004,"value":0.62},{"year":2004,"value":0.56},{"year":2004,"value":0.5},{"year":2004,"value":0.44},{"year":2004,"value":0.38},{"year":2004,"value":0.32},{"year":2004,"value":0.28},{"year":2004,"value":0.06},{"year":2004,"value":0.05},
{"year":2005,"value":1.39},{"year":2005,"value":1.28},{"year":2005,"value":1.18},{"year":2005,"value":1.13},{"year":2005,"value":1.02},{"year":2005,"value":0.97},{"year":2005,"value":0.9},{"year":2005,"value":0.84},{"year":2005,"value":0.78},{"year":2005,"value":0.72},{"year":2005,"value":0.66},{"year":2005,"value":0.6},{"year":2005,"value":0.54},
{"year":2006,"value":0.83},{"year":2006,"value":0.7},{"year":2006,"value":0.62},{"year":2006,"value":0.56},{"year":2007,"value":0.6},{"year":2007,"value":0.55},
{"year":2008,"value":0.72},{"year":2008,"value":0.62},{"year":2008,"value":0.56},{"year":2008,"value":0.5},{"year":2008,"value":0.46},{"year":2008,"value":0.44}
]
},
"columns": 2,
"bounds": "flush",
"spacing": {"row": 57, "column": 63.5},
"concat": [
{"width": 252, "height": 226, "title": {"text": "(NO₃+NO₂)-N"},
 "layer": [
  {"data": {"values": [{}]}, "mark": {"type": "rect", "color": "#f0f0f0"},
   "encoding": {"x": {"datum": 1948, "type": "quantitative", "scale": {"domain": [1948, 2010], "nice": false, "zero": false}, "axis": {"values": [1950,1960,1970,1980,1990,2000,2010], "format": "d", "labelExpr": "datum.value % 20 == 10 ? datum.label : ''", "title": null}}, "x2": {"datum": 2010},
    "y": {"datum": 3.8, "type": "quantitative", "scale": {"domain": [-0.7, 20.75], "nice": false, "zero": false}, "axis": {"values": [0,5,10,15,20], "format": "d", "title": "Gulf of Finland"}}, "y2": {"datum": 20.75}}},
  {"data": {"name": "fitA"}, "mark": {"type": "area", "color": "#f5a070", "interpolate": "monotone", "clip": true}, "encoding": {"x": {"field": "year", "type": "quantitative"}, "y": {"field": "lo", "type": "quantitative"}, "y2": {"field": "hi"}}},
  {"data": {"name": "ptsA"}, "mark": {"type": "point", "shape": "cross", "filled": true, "size": 10, "color": "#b2303a", "opacity": 1}, "encoding": {"x": {"field": "year", "type": "quantitative"}, "y": {"field": "value", "type": "quantitative"}}},
  {"data": {"name": "fitA"}, "mark": {"type": "line", "color": "#9e1a26", "strokeWidth": 1, "interpolate": "monotone", "clip": true}, "encoding": {"x": {"field": "year", "type": "quantitative"}, "y": {"field": "fit", "type": "quantitative"}}},
  {"data": {"values": [{}]}, "mark": {"type": "text", "text": "n =\u00a0\u00a0\u00a0628", "fontSize": 14, "color": "#b4323c"}, "encoding": {"x": {"datum": 1960, "type": "quantitative"}, "y": {"datum": 19.8, "type": "quantitative"}}}
 ]},
{"width": 252, "height": 226, "title": {"text": "PO₄-P"},
 "layer": [
  {"data": {"values": [{}]}, "mark": {"type": "rect", "color": "#f0f0f0"},
   "encoding": {"x": {"datum": 1948, "type": "quantitative", "scale": {"domain": [1948, 2010], "nice": false, "zero": false}, "axis": {"values": [1950,1960,1970,1980,1990,2000,2010], "format": "d", "labelExpr": "datum.value % 20 == 10 ? datum.label : ''", "title": null}}, "x2": {"datum": 2010},
    "y": {"datum": 0.74, "type": "quantitative", "scale": {"domain": [-0.05, 1.55], "nice": false, "zero": false}, "axis": {"values": [0,0.5,1,1.5], "format": ".1f", "title": null}}, "y2": {"datum": 1.55}}},
  {"data": {"name": "fitB"}, "mark": {"type": "area", "color": "#f5a070", "interpolate": "monotone", "clip": true}, "encoding": {"x": {"field": "year", "type": "quantitative"}, "y": {"field": "lo", "type": "quantitative"}, "y2": {"field": "hi"}}},
  {"data": {"name": "ptsB"}, "mark": {"type": "point", "shape": "cross", "filled": true, "size": 10, "color": "#b2303a", "opacity": 1}, "encoding": {"x": {"field": "year", "type": "quantitative"}, "y": {"field": "value", "type": "quantitative"}}},
  {"data": {"name": "fitB"}, "mark": {"type": "line", "color": "#9e1a26", "strokeWidth": 1, "interpolate": "monotone", "clip": true}, "encoding": {"x": {"field": "year", "type": "quantitative"}, "y": {"field": "fit", "type": "quantitative"}}},
  {"data": {"values": [{}]}, "mark": {"type": "text", "text": "n =\u00a0\u00a0\u00a0648", "fontSize": 14, "color": "#b4323c"}, "encoding": {"x": {"datum": 1960, "type": "quantitative"}, "y": {"datum": 1.47, "type": "quantitative"}}}
 ]},
{"width": 252, "height": 226,
 "layer": [
  {"data": {"values": [{}]}, "mark": {"type": "rect", "color": "#f0f0f0"},
   "encoding": {"x": {"datum": 1948, "type": "quantitative", "scale": {"domain": [1948, 2010], "nice": false, "zero": false}, "axis": {"values": [1950,1960,1970,1980,1990,2000,2010], "format": "d", "labelExpr": "datum.value % 20 == 10 ? datum.label : ''", "title": null}}, "x2": {"datum": 2010},
    "y": {"datum": 3.0, "type": "quantitative", "scale": {"domain": [-0.4, 10.43], "nice": false, "zero": false}, "axis": {"values": [0,2,4,6,8,10], "format": "d", "title": "Northern Baltic Proper"}}, "y2": {"datum": 10.43}}},
  {"data": {"name": "fitC"}, "mark": {"type": "area", "color": "#f5a070", "interpolate": "monotone", "clip": true}, "encoding": {"x": {"field": "year", "type": "quantitative"}, "y": {"field": "lo", "type": "quantitative"}, "y2": {"field": "hi"}}},
  {"data": {"name": "ptsC"}, "mark": {"type": "point", "shape": "cross", "filled": true, "size": 10, "color": "#b2303a", "opacity": 1}, "encoding": {"x": {"field": "year", "type": "quantitative"}, "y": {"field": "value", "type": "quantitative"}}},
  {"data": {"name": "fitC"}, "mark": {"type": "line", "color": "#9e1a26", "strokeWidth": 1, "interpolate": "monotone", "clip": true}, "encoding": {"x": {"field": "year", "type": "quantitative"}, "y": {"field": "fit", "type": "quantitative"}}},
  {"data": {"values": [{}]}, "mark": {"type": "text", "text": "n =\u00a0\u00a0\u00a0710", "fontSize": 14, "color": "#b4323c"}, "encoding": {"x": {"datum": 1960, "type": "quantitative"}, "y": {"datum": 9.95, "type": "quantitative"}}}
 ]},
{"width": 252, "height": 226,
 "layer": [
  {"data": {"values": [{}]}, "mark": {"type": "rect", "color": "#f0f0f0"},
   "encoding": {"x": {"datum": 1948, "type": "quantitative", "scale": {"domain": [1948, 2010], "nice": false, "zero": false}, "axis": {"values": [1950,1960,1970,1980,1990,2000,2010], "format": "d", "labelExpr": "datum.value % 20 == 10 ? datum.label : ''", "title": null}}, "x2": {"datum": 2010},
    "y": {"datum": 0.375, "type": "quantitative", "scale": {"domain": [-0.06, 1.555], "nice": false, "zero": false}, "axis": {"values": [0,0.5,1,1.5], "format": ".1f", "title": null}}, "y2": {"datum": 1.555}}},
  {"data": {"name": "fitD"}, "mark": {"type": "area", "color": "#f5a070", "interpolate": "monotone", "clip": true}, "encoding": {"x": {"field": "year", "type": "quantitative"}, "y": {"field": "lo", "type": "quantitative"}, "y2": {"field": "hi"}}},
  {"data": {"name": "ptsD"}, "mark": {"type": "point", "shape": "cross", "filled": true, "size": 10, "color": "#b2303a", "opacity": 1}, "encoding": {"x": {"field": "year", "type": "quantitative"}, "y": {"field": "value", "type": "quantitative"}}},
  {"data": {"name": "fitD"}, "mark": {"type": "line", "color": "#9e1a26", "strokeWidth": 1, "interpolate": "monotone", "clip": true}, "encoding": {"x": {"field": "year", "type": "quantitative"}, "y": {"field": "fit", "type": "quantitative"}}},
  {"data": {"values": [{}]}, "mark": {"type": "text", "text": "n =\u00a0\u00a0\u00a0815", "fontSize": 14, "color": "#b4323c"}, "encoding": {"x": {"datum": 1960, "type": "quantitative"}, "y": {"datum": 1.49, "type": "quantitative"}}}
 ]},
{"width": 252, "height": 226,
 "layer": [
  {"data": {"values": [{}]}, "mark": {"type": "rect", "color": "#f0f0f0"},
   "encoding": {"x": {"datum": 1948, "type": "quantitative", "scale": {"domain": [1948, 2010], "nice": false, "zero": false}, "axis": {"values": [1950,1960,1970,1980,1990,2000,2010], "format": "d", "labelExpr": "datum.value % 20 == 10 ? datum.label : ''", "title": null}}, "x2": {"datum": 2010},
    "y": {"datum": 3.0, "type": "quantitative", "scale": {"domain": [-0.4, 10.4], "nice": false, "zero": false}, "axis": {"values": [0,2,4,6,8,10], "format": "d", "title": "Bornholma Sea"}}, "y2": {"datum": 10.4}}},
  {"data": {"name": "fitE"}, "mark": {"type": "area", "color": "#f5a070", "interpolate": "monotone", "clip": true}, "encoding": {"x": {"field": "year", "type": "quantitative"}, "y": {"field": "lo", "type": "quantitative"}, "y2": {"field": "hi"}}},
  {"data": {"name": "ptsE"}, "mark": {"type": "point", "shape": "cross", "filled": true, "size": 10, "color": "#b2303a", "opacity": 1}, "encoding": {"x": {"field": "year", "type": "quantitative"}, "y": {"field": "value", "type": "quantitative"}}},
  {"data": {"name": "fitE"}, "mark": {"type": "line", "color": "#9e1a26", "strokeWidth": 1, "interpolate": "monotone", "clip": true}, "encoding": {"x": {"field": "year", "type": "quantitative"}, "y": {"field": "fit", "type": "quantitative"}}},
  {"data": {"values": [{}]}, "mark": {"type": "text", "text": "n =\u00a0\u00a0\u00a0544", "fontSize": 14, "color": "#b4323c"}, "encoding": {"x": {"datum": 1960, "type": "quantitative"}, "y": {"datum": 9.92, "type": "quantitative"}}}
 ]},
{"width": 252, "height": 226,
 "layer": [
  {"data": {"values": [{}]}, "mark": {"type": "rect", "color": "#f0f0f0"},
   "encoding": {"x": {"datum": 1948, "type": "quantitative", "scale": {"domain": [1948, 2010], "nice": false, "zero": false}, "axis": {"values": [1950,1960,1970,1980,1990,2000,2010], "format": "d", "labelExpr": "datum.value % 20 == 10 ? datum.label : ''", "title": null}}, "x2": {"datum": 2010},
    "y": {"datum": 0.375, "type": "quantitative", "scale": {"domain": [-0.05, 1.555], "nice": false, "zero": false}, "axis": {"values": [0,0.5,1,1.5], "format": ".1f", "title": null}}, "y2": {"datum": 1.555}}},
  {"data": {"name": "fitF"}, "mark": {"type": "area", "color": "#f5a070", "interpolate": "monotone", "clip": true}, "encoding": {"x": {"field": "year", "type": "quantitative"}, "y": {"field": "lo", "type": "quantitative"}, "y2": {"field": "hi"}}},
  {"data": {"name": "ptsF"}, "mark": {"type": "point", "shape": "cross", "filled": true, "size": 10, "color": "#b2303a", "opacity": 1}, "encoding": {"x": {"field": "year", "type": "quantitative"}, "y": {"field": "value", "type": "quantitative"}}},
  {"data": {"name": "fitF"}, "mark": {"type": "line", "color": "#9e1a26", "strokeWidth": 1, "interpolate": "monotone", "clip": true}, "encoding": {"x": {"field": "year", "type": "quantitative"}, "y": {"field": "fit", "type": "quantitative"}}},
  {"data": {"values": [{}]}, "mark": {"type": "text", "text": "n =\u00a0\u00a0\u00a0749", "fontSize": 14, "color": "#b4323c"}, "encoding": {"x": {"datum": 1960, "type": "quantitative"}, "y": {"datum": 1.49, "type": "quantitative"}}}
 ]}
]
}
